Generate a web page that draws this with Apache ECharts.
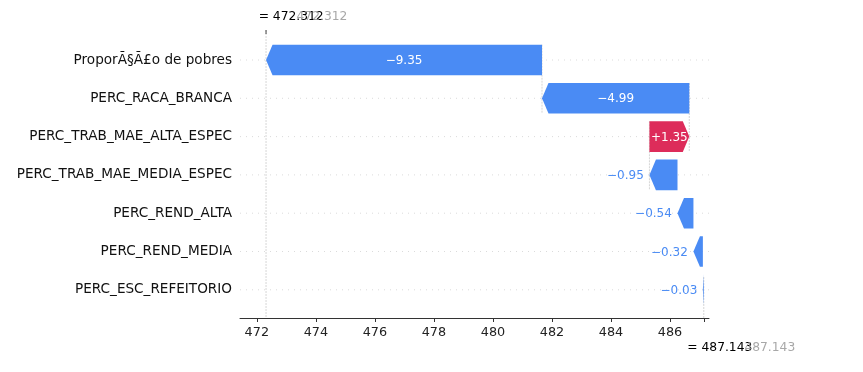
<!DOCTYPE html>
<html><head><meta charset="utf-8">
<script src="https://cdn.jsdelivr.net/npm/echarts@6/dist/echarts.min.js"></script>
<style>html,body{margin:0;padding:0;background:#fff}#c{width:863px;height:372px}</style>
</head><body><div id="c"></div>
<script>
// ---- data ----
const featureNames = ['ProporÃ§Ã£o de pobres','PERC_RACA_BRANCA','PERC_TRAB_MAE_ALTA_ESPEC','PERC_TRAB_MAE_MEDIA_ESPEC','PERC_REND_ALTA','PERC_REND_MEDIA','PERC_ESC_REFEITORIO'];
const shapValues = [-9.35, -4.99, 1.35, -0.95, -0.54, -0.32, -0.03];
const baseValue = 487.143;
const fxValue = 472.312;
const tickLabels = [472, 474, 476, 478, 480, 482, 484, 486];
const xMin = 471.43, xMax = 487.32;

// ---- styles ----
const BLUE = '#4a8bf4', RED = '#dd2c5a';
const FONT = '"DejaVu Sans"';
const HEAD = 6.5, GAP = 5.6, BAR = 0.8;
const PAD_TOP = 10.85, PAD_BOTTOM = 9.05;

// ---- derived (waterfall from f(x) down, as SHAP does) ----
let loc = fxValue;
const barRows = [];
const connectorRows = [];
shapValues.forEach((v, i) => {
  const start = loc - v;
  barRows.push([start, loc, i, v]);
  if (i + 4 < shapValues.length) connectorRows.push([start, start, i]);
  loc = start;
});

const ctx = document.createElement('canvas').getContext('2d');
ctx.font = '12px ' + FONT;
function fmt(v) { return (v >= 0 ? '+' : '\u2212') + Math.abs(v).toFixed(2); }

function renderBar(params, api) {
  const s = api.value(0), e = api.value(1), row = api.value(2), v = api.value(3);
  const p0 = api.coord([s, row]), p1 = api.coord([e, row]);
  const band = api.size([0, 1])[1];
  const hh = band * BAR / 2;
  const cs = params.coordSys;
  const y = p0[1];
  const d = p1[0] >= p0[0] ? 1 : -1;
  const len = Math.abs(p1[0] - p0[0]);
  const hl = Math.min(len, HEAD);
  const be = p1[0] - d * hl;
  const color = v >= 0 ? RED : BLUE;
  const label = fmt(v);
  const tw = ctx.measureText(label).width;
  let text;
  if (tw <= len) {
    text = {type: 'text', z2: 3, style: {x: (p0[0] + p1[0]) / 2, y: y + 1, text: label, fill: '#fff', align: 'center', verticalAlign: 'middle', font: '12px ' + FONT}};
  } else {
    text = {type: 'text', z2: 3, style: {x: p1[0] + d * GAP, y: y + 1, text: label, fill: color, align: d > 0 ? 'left' : 'right', verticalAlign: 'middle', font: '12px ' + FONT}};
  }
  return {type: 'group', children: [
    {type: 'line', z2: 0, shape: {x1: cs.x, y1: y, x2: cs.x + cs.width, y2: y}, style: {stroke: '#cccccc', lineWidth: 0.7, lineDash: [1, 5]}},
    {type: 'polygon', z2: 2, shape: {points: [[p0[0], y - hh], [be, y - hh], [p1[0], y], [be, y + hh], [p0[0], y + hh]]}, style: {fill: color}},
    text
  ]};
}

function renderConnector(params, api) {
  const x = api.value(0), row = api.value(2);
  const band = api.size([0, 1])[1];
  const a = api.coord([x, row]);
  const b = api.coord([x, row + 1]);
  return {type: 'line', shape: {x1: a[0], y1: a[1] - band * 0.4, x2: a[0], y2: b[1] + band * 0.4}, style: {stroke: '#bbbbbb', lineWidth: 0.6, lineDash: [2, 1]}};
}

function renderRefs(params, api) {
  const cs = params.coordSys;
  const fx = api.coord([api.value(0), 0])[0];
  const bx = api.coord([api.value(1), 0])[0];
  const top = cs.y - PAD_TOP, bottom = cs.y + cs.height + PAD_BOTTOM;
  const full = bottom - top;
  const fxText = api.value(0).toFixed(3), bText = api.value(1).toFixed(3);
  return {type: 'group', children: [
    {type: 'line', shape: {x1: fx, y1: top, x2: fx, y2: bottom}, style: {stroke: '#c4c4c4', lineWidth: 0.7, lineDash: [2, 1]}},
    {type: 'line', shape: {x1: bx, y1: bottom, x2: bx, y2: bottom - full / shapValues.length}, style: {stroke: '#c4c4c4', lineWidth: 0.7, lineDash: [2, 1]}},
    {type: 'line', shape: {x1: fx, y1: top, x2: fx, y2: top + 4}, style: {stroke: '#444', lineWidth: 1}},
    {type: 'text', style: {x: fx - 7.4, y: 16.5, text: '= ' + fxText, fill: '#000', align: 'left', verticalAlign: 'middle', font: '12.3px ' + FONT}},
    {type: 'text', style: {x: fx + 30.5, y: 16.5, text: fxText, fill: '#999999', opacity: 0.85, align: 'left', verticalAlign: 'middle', font: '12.3px ' + FONT}},
    {type: 'text', style: {x: bx - 16.5, y: 347.5, text: '= ' + bText, fill: '#000', align: 'left', verticalAlign: 'middle', font: '12.3px ' + FONT}},
    {type: 'text', style: {x: bx + 40.6, y: 347.5, text: bText, fill: '#999999', opacity: 0.85, align: 'left', verticalAlign: 'middle', font: '12.3px ' + FONT}}
  ]};
}

const chart = echarts.init(document.getElementById('c'), null, {renderer: 'canvas'});
chart.setOption({
  backgroundColor: '#fff',
  animation: false,
  grid: {left: 240, right: 154, top: 40.85, bottom: 63.05, containLabel: false},
  xAxis: {
    type: 'value', min: xMin, max: xMax, offset: PAD_BOTTOM,
    axisLine: {show: true, lineStyle: {color: '#333', width: 1}},
    axisTick: {show: true, length: 4, lineStyle: {color: '#333'}, customValues: tickLabels.concat([baseValue])},
    axisLabel: {customValues: tickLabels, color: '#222', fontSize: 12.8, fontFamily: FONT, margin: 8},
    splitLine: {show: false}
  },
  yAxis: {
    type: 'category', data: featureNames, inverse: true,
    axisLine: {show: false}, axisTick: {show: false}, splitLine: {show: false},
    axisLabel: {color: '#111', fontSize: 13.6, fontFamily: FONT, margin: 8, padding: [8, 0, 0, 0]}
  },
  series: [
    {type: 'custom', renderItem: renderConnector, data: connectorRows, encode: {x: [0, 1], y: 2}, z: 1, silent: true},
    {type: 'custom', renderItem: renderRefs, data: [[fxValue, baseValue, 0]], encode: {x: [0, 1], y: 2}, z: 1, silent: true},
    {type: 'custom', renderItem: renderBar, data: barRows, encode: {x: [0, 1], y: 2}, z: 2, silent: true}
  ]
});
</script>
</body></html>
